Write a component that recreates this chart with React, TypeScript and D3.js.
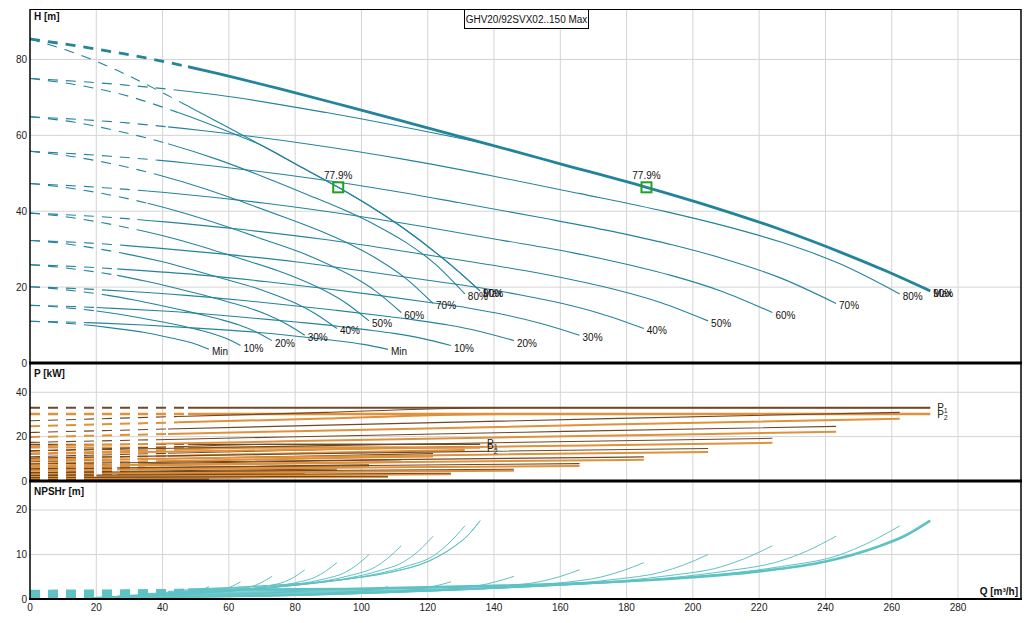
import React from 'react';
import * as d3 from 'd3';

const W = 1032;
const HT = 623;

// speed levels (index 0 = Max)
const levelLabels = ['Max', '90%', '80%', '70%', '60%', '50%', '40%', '30%', '20%', '10%', 'Min'];
// flow below which the curves are drawn dashed [m3/h]
const minFlow = [47.7, 44.7, 41.6, 38.5, 35.5, 32.4, 29.3, 26.3, 23.1, 20.1, 17.1];
// pumps running in parallel for the two curve families
const pumpsRunning = [1, 2];

// Head curves for one pump, per speed level
const headQ = [
  [0, 10.5, 17.5, 26.6, 37.6, 47.7, 58, 69.5, 80, 93, 103, 112.7, 122.7, 128.8, 135.8],
  [0, 14.1, 28.1, 44.7, 60.9, 69.5, 80, 93, 103, 112.7, 122.7, 128.8, 135.8],
  [0, 13.1, 26.2, 41.6, 56.7, 69.8, 82.8, 95.9, 104.6, 113.4, 122.1, 131.2],
  [0, 12.1, 24.2, 38.5, 52.5, 64.6, 76.8, 88.9, 97.0, 105.0, 113.1, 121.6],
  [0, 11.2, 22.3, 35.5, 48.4, 59.5, 70.7, 81.8, 89.3, 96.7, 104.2, 112.0],
  [0, 10.2, 20.4, 32.4, 44.2, 54.4, 64.6, 74.8, 81.6, 88.4, 95.2, 102.3],
  [0, 9.2, 18.5, 29.3, 40.0, 49.2, 58.4, 67.7, 73.8, 80.0, 86.1, 92.6],
  [0, 8.3, 16.5, 26.3, 35.8, 44.1, 52.3, 60.6, 66.1, 71.6, 77.1, 82.9],
  [0, 7.3, 14.6, 23.1, 31.5, 38.8, 46.1, 53.4, 58.2, 63.1, 67.9, 73.0],
  [0, 6.3, 12.7, 20.1, 27.4, 33.8, 40.1, 46.4, 50.6, 54.9, 59.1, 63.5],
  [0, 5.4, 10.8, 17.1, 23.3, 28.7, 34.1, 39.5, 43.1, 46.7, 50.3, 54.0],
];
const headH = [
  [85.4, 82.6, 80.4, 77.0, 72.3, 67.7, 62.9, 57.5, 52.5, 46.3, 41.1, 35.5, 28.9, 24.5, 19.0],
  [75.0, 73.3, 70.7, 66.0, 60.6, 57.5, 52.5, 46.3, 41.1, 35.5, 28.9, 24.5, 19.0],
  [64.9, 63.5, 61.2, 57.8, 53.6, 49.3, 44.7, 39.9, 36.2, 31.8, 26.2, 18.2],
  [55.8, 54.5, 52.6, 49.6, 46.0, 42.3, 38.4, 34.3, 31.1, 27.3, 22.5, 15.7],
  [47.3, 46.2, 44.6, 42.1, 39.0, 35.9, 32.5, 29.1, 26.3, 23.1, 19.0, 13.3],
  [39.5, 38.6, 37.2, 35.1, 32.6, 30.0, 27.2, 24.3, 22.0, 19.3, 15.9, 11.1],
  [32.3, 31.6, 30.4, 28.7, 26.7, 24.5, 22.2, 19.9, 18.0, 15.8, 13.0, 9.1],
  [25.9, 25.3, 24.4, 23.1, 21.4, 19.7, 17.9, 15.9, 14.5, 12.7, 10.4, 7.3],
  [20.1, 19.6, 18.9, 17.9, 16.6, 15.3, 13.9, 12.4, 11.3, 10.0, 8.3, 5.9],
  [15.2, 14.9, 14.4, 13.7, 12.8, 11.8, 10.8, 9.7, 8.8, 7.8, 6.5, 4.6],
  [11.0, 10.8, 10.5, 10.0, 9.4, 8.8, 8.1, 7.2, 6.5, 5.8, 4.9, 3.6],
];

// Power curves for one pump [kW]
const powerQ = [
  [0, 47.7, 135.8],
  [0, 44.7, 71.5, 135.8],
  [0, 41.6, 87.2, 131.2],
  [0, 38.5, 80.8, 121.6],
  [0, 35.5, 74.4, 112.0],
  [0, 32.4, 68.0, 102.3],
  [0, 29.3, 61.5, 92.6],
  [0, 26.3, 55.1, 82.9],
  [0, 23.1, 48.5, 73.0],
  [0, 20.1, 42.2, 63.5],
  [0, 17.1, 35.9, 54.0],
];
const powerP1 = [
  [16.5, 16.5, 16.5],
  [13.57, 15.48, 16.5, 16.5],
  [10.94, 12.48, 14.06, 15.48],
  [8.70, 9.93, 11.18, 12.32],
  [6.79, 7.75, 8.73, 9.62],
  [5.19, 5.92, 6.67, 7.34],
  [3.84, 4.38, 4.93, 5.43],
  [2.76, 3.15, 3.55, 3.91],
  [1.88, 2.15, 2.42, 2.66],
  [1.24, 1.42, 1.59, 1.76],
  [0.76, 0.87, 0.98, 1.08],
];
const powerP2 = [
  [15.1, 15.1, 15.1],
  [12.35, 14.09, 15.1, 15.1],
  [9.90, 11.29, 12.72, 14.01],
  [7.83, 8.94, 10.06, 11.09],
  [6.08, 6.94, 7.81, 8.61],
  [4.62, 5.27, 5.94, 6.53],
  [3.38, 3.85, 4.34, 4.78],
  [2.40, 2.74, 3.09, 3.40],
  [1.62, 1.85, 2.08, 2.29],
  [1.05, 1.21, 1.35, 1.50],
  [0.64, 0.73, 0.82, 0.91],
];

// NPSHr curves for one pump [m]
const npshQ = [
  [0, 47.7, 71.5, 90, 100, 110, 120, 128, 132, 135.8],
  [0, 44.7, 71.5, 90, 100, 110, 120, 128, 132, 135.8],
  [0, 41.6, 69.8, 87.2, 95.9, 104.6, 113.4, 122.1, 126.4, 131.2],
  [0, 38.5, 64.6, 80.8, 88.9, 97.0, 105.0, 113.1, 117.2, 121.6],
  [0, 35.5, 59.5, 74.4, 81.8, 89.3, 96.7, 104.2, 107.9, 112.0],
  [0, 32.4, 54.4, 68.0, 74.8, 81.6, 88.4, 95.2, 98.6, 102.3],
  [0, 29.3, 49.2, 61.5, 67.7, 73.8, 80.0, 86.1, 89.2, 92.6],
  [0, 26.3, 44.1, 55.1, 60.6, 66.1, 71.6, 77.1, 79.9, 82.9],
  [0, 23.1, 38.8, 48.5, 53.4, 58.2, 63.1, 67.9, 70.3, 73.0],
  [0, 20.1, 33.8, 42.2, 46.4, 50.6, 54.9, 59.1, 61.2, 63.5],
  [0, 17.1, 28.7, 35.9, 39.5, 43.1, 46.7, 50.3, 52.1, 54.0],
];
const npshN = [
  [1.8, 2.25, 3.0, 4.0, 4.9, 6.2, 8.4, 11.8, 14.2, 17.6],
  [1.58, 1.98, 3.0, 4.0, 4.9, 6.2, 8.4, 11.8, 14.2, 17.6],
  [1.37, 1.71, 2.59, 3.65, 4.49, 5.63, 7.30, 9.89, 12.55, 16.42],
  [1.18, 1.47, 2.22, 3.13, 3.85, 4.83, 6.27, 8.49, 10.77, 14.10],
  [1.00, 1.25, 1.88, 2.66, 3.27, 4.10, 5.31, 7.20, 9.13, 11.96],
  [0.83, 1.04, 1.57, 2.22, 2.73, 3.42, 4.44, 6.01, 7.63, 9.99],
  [0.68, 0.85, 1.29, 1.82, 2.23, 2.80, 3.63, 4.92, 6.24, 8.17],
  [0.55, 0.68, 1.03, 1.46, 1.79, 2.25, 2.91, 3.95, 5.01, 6.56],
  [0.42, 0.53, 0.80, 1.13, 1.39, 1.74, 2.26, 3.06, 3.88, 5.08],
  [0.32, 0.40, 0.61, 0.85, 1.05, 1.32, 1.71, 2.32, 2.94, 3.85],
  [0.23, 0.29, 0.44, 0.62, 0.76, 0.95, 1.24, 1.68, 2.13, 2.78],
];

// best efficiency point for one pump
const effQ = 93;
const effH = 46.3;
const effLabel = '77.9%';

const qTicks = [0, 20, 40, 60, 80, 100, 120, 140, 160, 180, 200, 220, 240, 260, 280];
const hTicks = [0, 20, 40, 60, 80];
const pTicks = [0, 20, 40];
const nTicks = [0, 10, 20];
const title = 'GHV20/92SVX02..150 Max';

const FONT = '"Liberation Sans", Arial, sans-serif';

export default function App() {
  const x = d3.scaleLinear().domain([0, 299]).range([30, 1021]);
  const yH = d3.scaleLinear().domain([0, 93.3]).range([363, 9]);
  const yP = d3.scaleLinear().domain([0, 53.2]).range([481, 363]);
  const yN = d3.scaleLinear().domain([0, 26.5]).range([599, 481]);

  const mk = (ys: d3.ScaleLinear<number, number>) =>
    d3
      .line<[number, number]>()
      .x((d) => x(d[0]))
      .y((d) => ys(d[1]))
      .curve(d3.curveMonotoneX);
  const lineH = mk(yH);
  const lineP = mk(yP);
  const lineN = mk(yN);

  const dash = '10,8';
  const hColor = '#23849c';
  const pColor1 = '#6f4824';
  const pColor2 = '#e0913a';
  const nColor = '#5ec2c5';

  const twoPart = (key: string, d: string, i: number, stroke: string, sw: number) => (
    <g key={key}>
      <path d={d} fill="none" stroke={stroke} strokeWidth={sw} strokeDasharray={dash} clipPath={`url(#cl${i})`} />
      <path d={d} fill="none" stroke={stroke} strokeWidth={sw} clipPath={`url(#cr${i})`} />
    </g>
  );

  const headEls: React.ReactNode[] = [];
  const powerEls: React.ReactNode[] = [];
  const npshEls: React.ReactNode[] = [];
  const labelEls: React.ReactNode[] = [];

  pumpsRunning.forEach((k, f) => {
    levelLabels.forEach((lab, i) => {
      const big = k === 2 && i === 0;
      const hp = headQ[i].map((q, j) => [q * k, headH[i][j]] as [number, number]);
      headEls.push(twoPart(`h${f}-${i}`, lineH(hp) || '', i, hColor, big ? 2.8 : 1.1));
      const last = hp[hp.length - 1];
      labelEls.push(
        <text key={`l${f}-${i}`} x={x(last[0]) + 3} y={yH(last[1]) + 6} fontSize={10} fontFamily={FONT} fill="#111">
          {lab}
        </text>
      );
      const p2 = powerQ[i].map((q, j) => [q * k, powerP2[i][j] * k] as [number, number]);
      const p1 = powerQ[i].map((q, j) => [q * k, powerP1[i][j] * k] as [number, number]);
      powerEls.push(twoPart(`p2${f}-${i}`, lineP(p2) || '', i, pColor2, big ? 2.4 : 2));
      powerEls.push(twoPart(`p1${f}-${i}`, lineP(p1) || '', i, pColor1, big ? 2 : 1.1));
      const np = npshQ[i].map((q, j) => [q * k, npshN[i][j]] as [number, number]);
      npshEls.push(twoPart(`n${f}-${i}`, lineN(np) || '', i, nColor, big ? 2.6 : 1));
    });
  });

  const pLabels = pumpsRunning.map((k, f) => {
    const qEnd = powerQ[0][powerQ[0].length - 1] * k;
    const p1End = powerP1[0][powerP1[0].length - 1] * k;
    const p2End = powerP2[0][powerP2[0].length - 1] * k;
    return (
      <g key={`pl${f}`} fontSize={10} fontFamily={FONT} fill="#222">
        <text x={x(qEnd) + 7} y={yP(p1End) + 3}>
          P<tspan fontSize={7} dy={2}>1</tspan>
        </text>
        <text x={x(qEnd) + 7} y={yP(p2End) + 4}>
          P<tspan fontSize={7} dy={2}>2</tspan>
        </text>
      </g>
    );
  });

  const gridQ = qTicks.filter((t) => t > 0);

  return (
    <svg
      width={W}
      height={HT}
      style={{ position: 'absolute', left: 0, top: 0, background: '#fff' }}
      fontFamily={FONT}
    >
      <defs>
        {minFlow.map((m, i) => (
          <React.Fragment key={i}>
            <clipPath id={`cl${i}`}>
              <rect x={0} y={0} width={x(m)} height={HT} />
            </clipPath>
            <clipPath id={`cr${i}`}>
              <rect x={x(m)} y={0} width={W - x(m)} height={HT} />
            </clipPath>
          </React.Fragment>
        ))}
      </defs>
      <rect x={0} y={0} width={W} height={HT} fill="#fff" />

      {/* grid */}
      <g stroke="#d4d4d4" strokeWidth={1}>
        {gridQ.map((t) => (
          <line key={`gq${t}`} x1={x(t)} x2={x(t)} y1={9} y2={599} />
        ))}
        {hTicks.filter((t) => t > 0).map((t) => (
          <line key={`gh${t}`} x1={30} x2={1021} y1={yH(t)} y2={yH(t)} />
        ))}
        {pTicks.filter((t) => t > 0).map((t) => (
          <line key={`gp${t}`} x1={30} x2={1021} y1={yP(t)} y2={yP(t)} />
        ))}
        {nTicks.filter((t) => t > 0).map((t) => (
          <line key={`gn${t}`} x1={30} x2={1021} y1={yN(t)} y2={yN(t)} />
        ))}
      </g>

      <g>{powerEls}</g>
      <g>{npshEls}</g>
      <g>{headEls}</g>
      <g>{labelEls}</g>
      {pLabels}

      {/* efficiency markers */}
      {pumpsRunning.map((k, f) => (
        <g key={`e${f}`}>
          <rect x={x(effQ * k) - 5} y={yH(effH) - 5} width={10} height={10} fill="none" stroke="#1fa01f" strokeWidth={2} />
          <text x={x(effQ * k)} y={yH(effH) - 8} textAnchor="middle" fontSize={10} fill="#111">
            {effLabel}
          </text>
        </g>
      ))}

      {/* frame */}
      <g stroke="#000" fill="none">
        <line x1={30} x2={1021} y1={9.5} y2={9.5} strokeWidth={1} />
        <line x1={30} x2={30} y1={9} y2={600} strokeWidth={1.5} />
        <line x1={1021} x2={1021} y1={9} y2={600} strokeWidth={1.5} />
        <line x1={29} x2={1022} y1={363} y2={363} strokeWidth={3} />
        <line x1={29} x2={1022} y1={481} y2={481} strokeWidth={3} />
        <line x1={29} x2={1022} y1={599} y2={599} strokeWidth={2} />
      </g>

      {/* title */}
      <rect x={464.5} y={9.5} width={124} height={19} fill="#fff" stroke="#000" strokeWidth={1} />
      <text x={526.5} y={22.5} textAnchor="middle" fontSize={10} fill="#111">
        {title}
      </text>

      {/* axis labels */}
      <g fontSize={10} fill="#222" textAnchor="end">
        {hTicks.map((t) => (
          <text key={`th${t}`} x={27} y={yH(t) + 3.5}>
            {t}
          </text>
        ))}
        {pTicks.map((t) => (
          <text key={`tp${t}`} x={27} y={yP(t) + 3.5}>
            {t}
          </text>
        ))}
        {nTicks.map((t) => (
          <text key={`tn${t}`} x={27} y={yN(t) + 3.5}>
            {t}
          </text>
        ))}
      </g>
      <g fontSize={10} fill="#222" textAnchor="middle">
        {qTicks.map((t) => (
          <text key={`tq${t}`} x={x(t)} y={611}>
            {t}
          </text>
        ))}
      </g>
      <g fontSize={10} fontWeight="bold" fill="#111">
        <text x={34} y={20}>H [m]</text>
        <text x={34} y={377}>P [kW]</text>
        <text x={34} y={495}>NPSHr [m]</text>
        <text x={1018} y={595} textAnchor="end">Q [m³/h]</text>
      </g>
    </svg>
  );
}
